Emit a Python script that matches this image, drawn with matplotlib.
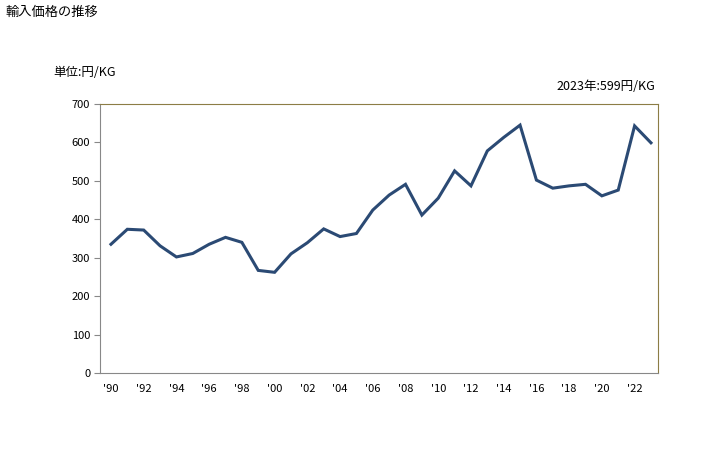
import matplotlib
matplotlib.use("Agg")
import matplotlib.pyplot as plt

plt.rcParams['font.family'] = ['Noto Sans CJK JP', 'DejaVu Sans']

years = list(range(1990, 2024))
prices = [335, 374, 372, 331, 302, 311, 335, 353, 340, 267, 262,
          310, 339, 375, 355, 363, 424, 463, 491, 411, 455,
          526, 487, 578, 613, 645, 502, 481, 487, 491, 461,
          476, 643, 599]
tick_years = list(range(1990, 2023, 2))
tick_labels = ["'%02d" % (y % 100) for y in tick_years]

fig = plt.figure(figsize=(7.28, 4.5), dpi=100)
ax = fig.add_axes([100/728, 77/450, 558/728, 269/450])

ax.plot(years, prices, color="#2B4A74", linewidth=2.2, solid_joinstyle="miter")

ax.set_ylim(0, 700)
ax.set_xlim(1989.33, 2023.43)
ax.set_yticks(range(0, 701, 100))
ax.set_xticks(tick_years)
ax.set_xticklabels(tick_labels)
ax.tick_params(axis='y', length=4, color="#888888", labelsize=8, pad=3)
ax.tick_params(axis='x', length=0, labelsize=8, pad=8)

for side in ['left', 'bottom']:
    ax.spines[side].set_color("#888888")
for side in ['top', 'right']:
    ax.spines[side].set_color("#8C7D45")

fig.text(5/728, 1 - 12/450, "輸入価格の推移", fontsize=9.5, va='center', ha='left')
fig.text(53/728, 1 - 73/450, "単位:円/KG", fontsize=9, va='center', ha='left')
fig.text(655/728, 1 - 86/450, "2023年:599円/KG", fontsize=9, va='center', ha='right')

fig.savefig("out.png", dpi=100)
